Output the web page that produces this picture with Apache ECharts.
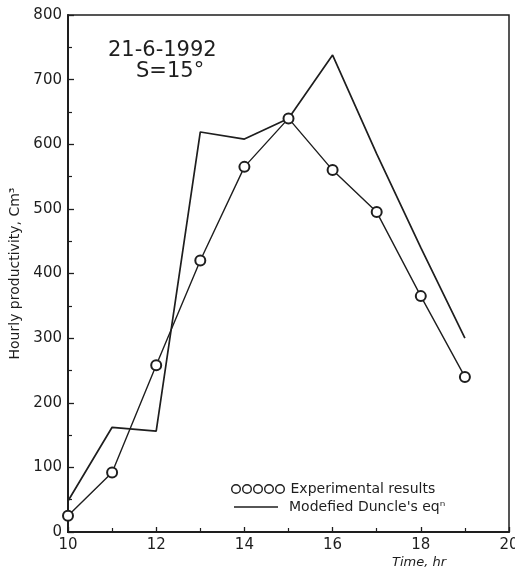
<!DOCTYPE html>
<html>
<head>
<meta charset="utf-8">
<script src="https://cdn.jsdelivr.net/npm/echarts@6/dist/echarts.min.js"></script>
<style>
  html, body { margin: 0; padding: 0; background: #fff; }
  #chart { width: 515px; height: 576px; }
</style>
</head>
<body>
<div id="chart"></div>
<script>
// Hourly still productivity on 21-6-1992, tilt S = 15°
const hours = [10, 11, 12, 13, 14, 15, 16, 17, 18, 19];
const experimental = [25, 92, 258, 420, 565, 640, 560, 495, 365, 240];
const modelled = [48, 162, 156, 619, 608, 640, 738, 585, 440, 300];
const yTicks = [0, 100, 200, 300, 400, 500, 600, 700, 800];
const xTicks = [10, 12, 14, 16, 18, 20];

const FONT = '"DejaVu Sans", "Liberation Sans", sans-serif';
const INK = '#1e1e1e';

const pairs = (xs, ys) => xs.map((x, i) => [x, ys[i]]);

// five open rings used as the legend key for the measured points
const ringsIcon = 'path://' + [0, 1, 2, 3, 4].map(k => {
  const cx = 5 + k * 11;
  return `M${cx - 5},5a5,5 0 1,0 10,0a5,5 0 1,0 -10,0Z` +
         `M${cx - 3.6},5a3.6,3.6 0 1,1 7.2,0a3.6,3.6 0 1,1 -7.2,0Z`;
}).join('');

const chart = echarts.init(document.getElementById('chart'), null, { renderer: 'canvas' });

chart.setOption({
  animation: false,
  backgroundColor: '#fff',
  textStyle: { fontFamily: FONT, color: INK },
  grid: {
    left: 68, right: 6, top: 15, bottom: 44,
    outerBoundsMode: 'none', containLabel: false,
    show: true, borderColor: INK, borderWidth: 1.5, backgroundColor: 'transparent'
  },
  xAxis: {
    type: 'value',
    min: xTicks[0], max: xTicks[xTicks.length - 1], interval: 2,
    axisLine: { lineStyle: { color: INK, width: 2 } },
    axisTick: { inside: true, length: 5, lineStyle: { color: INK, width: 1.3 } },
    minorTick: { show: true, splitNumber: 2, length: 4, lineStyle: { color: INK, width: 1.2 } },
    splitLine: { show: false },
    axisLabel: { fontSize: 15, color: INK, margin: 6, fontFamily: FONT }
  },
  yAxis: {
    type: 'value',
    min: yTicks[0], max: yTicks[yTicks.length - 1], interval: 100,
    name: 'Hourly productivity, Cm³',
    nameLocation: 'middle', nameGap: 46,
    nameTextStyle: { fontSize: 14, color: INK, fontFamily: FONT },
    axisLine: { lineStyle: { color: INK, width: 2 } },
    axisTick: { inside: true, length: 6, lineStyle: { color: INK, width: 1.3 } },
    minorTick: { show: true, splitNumber: 2, length: 4, lineStyle: { color: INK, width: 1.2 } },
    splitLine: { show: false },
    axisLabel: { fontSize: 15, color: INK, margin: 6, fontFamily: FONT }
  },
  legend: [
    {
      orient: 'vertical',
      left: 226, top: 477,
      itemWidth: 55, itemHeight: 10,
      textStyle: { fontSize: 14, color: INK, fontFamily: FONT },
      data: [
        { name: 'Experimental results', icon: ringsIcon,
          itemStyle: { color: INK, borderWidth: 0 } }
      ]
    },
    {
      orient: 'vertical',
      left: 229, top: 495,
      itemWidth: 44, itemHeight: 1.7,
      textStyle: { fontSize: 14, color: INK, fontFamily: FONT, padding: [0, 0, 0, 6] },
      data: [
        { name: "Modefied Duncle's eqⁿ", icon: 'rect',
          itemStyle: { color: INK, borderWidth: 0 } }
      ]
    }
  ],
  graphic: [
    { type: 'text', left: 108, top: 40,
      style: { text: '21-6-1992', font: `21px ${FONT}`, fill: INK } },
    { type: 'text', left: 136, top: 61,
      style: { text: 'S=15°', font: `21px ${FONT}`, fill: INK } },
    { type: 'text', left: 392, top: 556,
      style: { text: 'Time, hr', font: `italic 13px ${FONT}`, fill: INK } }
  ],
  series: [
    {
      name: 'Experimental results',
      type: 'line',
      data: pairs(hours, experimental),
      symbol: 'emptyCircle', symbolSize: 10, showSymbol: true,
      itemStyle: { color: INK, borderWidth: 1.5 },
      lineStyle: { color: INK, width: 1.4 },
      z: 3
    },
    {
      name: "Modefied Duncle's eqⁿ",
      type: 'line',
      data: pairs(hours, modelled),
      symbol: 'none',
      itemStyle: { color: INK },
      lineStyle: { color: INK, width: 1.7 },
      z: 2
    }
  ]
});
</script>
</body>
</html>
